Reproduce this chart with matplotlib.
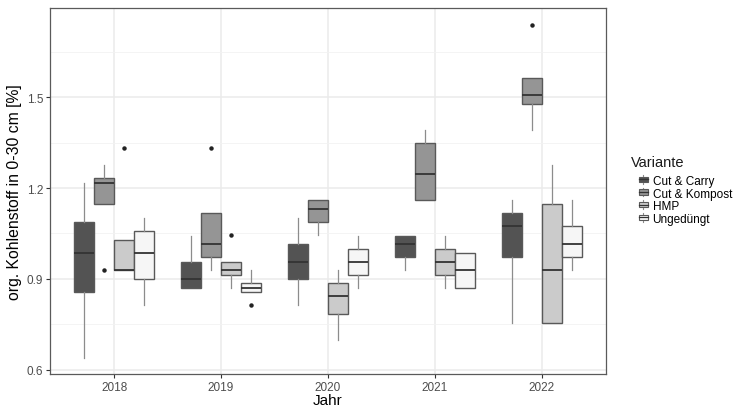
import matplotlib
matplotlib.use("Agg")
import matplotlib.pyplot as plt
from matplotlib.patches import Rectangle
from matplotlib.lines import Line2D
from matplotlib.legend_handler import HandlerBase

plt.rcParams['font.family'] = ['Liberation Sans', 'DejaVu Sans']

years = ['2018', '2019', '2020', '2021', '2022']
variants = ['Cut & Carry', 'Cut & Kompost', 'HMP', 'Ungedüngt']
fills = ['#535353', '#959595', '#cbcbcb', '#f6f6f6']

# box statistics per variant, one value per year
cc_lo = [0.639, 0.870, 0.813, 0.928, 0.754]
cc_q1 = [0.855, 0.870, 0.900, 0.971, 0.971]
cc_med = [0.986, 0.900, 0.956, 1.015, 1.073]
cc_q3 = [1.087, 0.956, 1.015, 1.042, 1.117]
cc_hi = [1.218, 1.042, 1.100, 1.042, 1.159]
cc_out = [[], [], [], [], []]

ko_lo = [1.146, 0.928, 1.044, 1.159, 1.391]
ko_q1 = [1.146, 0.971, 1.087, 1.159, 1.477]
ko_med = [1.218, 1.015, 1.131, 1.248, 1.507]
ko_q3 = [1.233, 1.117, 1.160, 1.348, 1.565]
ko_hi = [1.276, 1.117, 1.160, 1.391, 1.565]
ko_out = [[0.928], [1.334], [], [], [1.739]]

hmp_lo = [0.928, 0.870, 0.697, 0.870, 0.754]
hmp_q1 = [0.928, 0.912, 0.784, 0.912, 0.754]
hmp_med = [0.928, 0.928, 0.842, 0.956, 0.928]
hmp_q3 = [1.029, 0.956, 0.885, 1.000, 1.146]
hmp_hi = [1.029, 0.956, 0.928, 1.042, 1.276]
hmp_out = [[1.334], [1.044], [], [], []]

ug_lo = [0.813, 0.855, 0.870, 0.870, 0.928]
ug_q1 = [0.900, 0.855, 0.912, 0.870, 0.971]
ug_med = [0.986, 0.870, 0.956, 0.928, 1.015]
ug_q3 = [1.059, 0.885, 1.000, 0.986, 1.073]
ug_hi = [1.100, 0.928, 1.042, 0.986, 1.159]
ug_out = [[], [0.813], [], [], []]

series = [
    (cc_lo, cc_q1, cc_med, cc_q3, cc_hi, cc_out),
    (ko_lo, ko_q1, ko_med, ko_q3, ko_hi, ko_out),
    (hmp_lo, hmp_q1, hmp_med, hmp_q3, hmp_hi, hmp_out),
    (ug_lo, ug_q1, ug_med, ug_q3, ug_hi, ug_out),
]

edge_col = '#595959'
whisk_col = '#8c8c8c'
med_col = '#333333'

fig = plt.figure(figsize=(7.36, 4.10), dpi=100)
ax = fig.add_axes([0.068, 0.085, 0.755, 0.893])

dodge = 0.1875
for k, (lo, q1, med, q3, hi, out) in enumerate(series):
    stats = []
    for i in range(len(years)):
        stats.append(dict(whislo=lo[i], q1=q1[i], med=med[i], q3=q3[i],
                          whishi=hi[i], fliers=out[i]))
    pos = [i + 1 + (k - 1.5) * dodge for i in range(len(years))]
    ax.bxp(stats, positions=pos, widths=dodge, patch_artist=True,
           showcaps=False, manage_ticks=False,
           boxprops=dict(facecolor=fills[k], edgecolor=edge_col, linewidth=1.0),
           medianprops=dict(color=med_col, linewidth=1.3),
           whiskerprops=dict(color=whisk_col, linewidth=0.9),
           flierprops=dict(marker='o', markersize=2.2, markerfacecolor='#222222',
                           markeredgecolor='#222222'))

ax.set_xlim(0.4, 5.6)
ax.set_ylim(0.585, 1.795)
ax.set_xticks(range(1, len(years) + 1))
ax.set_xticklabels(years)
ax.set_yticks([0.6, 0.9, 1.2, 1.5])
ax.set_yticklabels(['0.6', '0.9', '1.2', '1.5'])
ax.set_yticks([0.75, 1.05, 1.35, 1.65], minor=True)
ax.set_xticks([], minor=True)
ax.grid(True, which='major', color='#ebebeb', linewidth=1.1)
ax.grid(True, which='minor', axis='y', color='#f2f2f2', linewidth=0.6)
ax.set_axisbelow(True)
for s in ax.spines.values():
    s.set_color('#5a5a5a')
    s.set_linewidth(0.9)
ax.tick_params(axis='both', which='major', colors='#333333', labelsize=8.5,
               length=3, width=0.8, labelcolor='#4d4d4d', pad=2)
ax.tick_params(axis='y', which='minor', length=0)
ax.set_xlabel('Jahr', fontsize=11, labelpad=0)
ax.set_ylabel('org. Kohlenstoff in 0-30 cm [%]', fontsize=11.3, labelpad=3)


class BoxHandler(HandlerBase):
    def create_artists(self, legend, orig, xd, yd, w, h, fontsize, trans):
        fc = orig.get_facecolor()
        cx = xd + w / 2
        bw = w
        r = Rectangle((cx - bw / 2, yd + h * 0.2), bw, h * 0.6, facecolor=fc,
                      edgecolor=edge_col, linewidth=0.8, transform=trans)
        m = Line2D([cx - bw / 2, cx + bw / 2], [yd + h * 0.5] * 2,
                   color=med_col, linewidth=0.9, transform=trans)
        wl = Line2D([cx, cx], [yd, yd + h * 0.2], color=whisk_col,
                    linewidth=0.8, transform=trans)
        wu = Line2D([cx, cx], [yd + h * 0.8, yd + h], color=whisk_col,
                    linewidth=0.8, transform=trans)
        return [wl, wu, r, m]


fig.text(631 / 736, 1 - 163 / 410, 'Variante', fontsize=10.5, va='center',
         ha='left', color='#1a1a1a')
handles = [Rectangle((0, 0), 1, 1, facecolor=c) for c in fills]
leg = fig.legend(handles, variants, loc='upper left',
                 bbox_to_anchor=(639 / 736, 1 - 176 / 410),
                 frameon=False, fontsize=8.5,
                 handler_map={Rectangle: BoxHandler()}, handlelength=0.75,
                 handleheight=0.75, handletextpad=0.4, labelspacing=0.05,
                 borderpad=0, borderaxespad=0)

fig.savefig('out.png', dpi=100)
